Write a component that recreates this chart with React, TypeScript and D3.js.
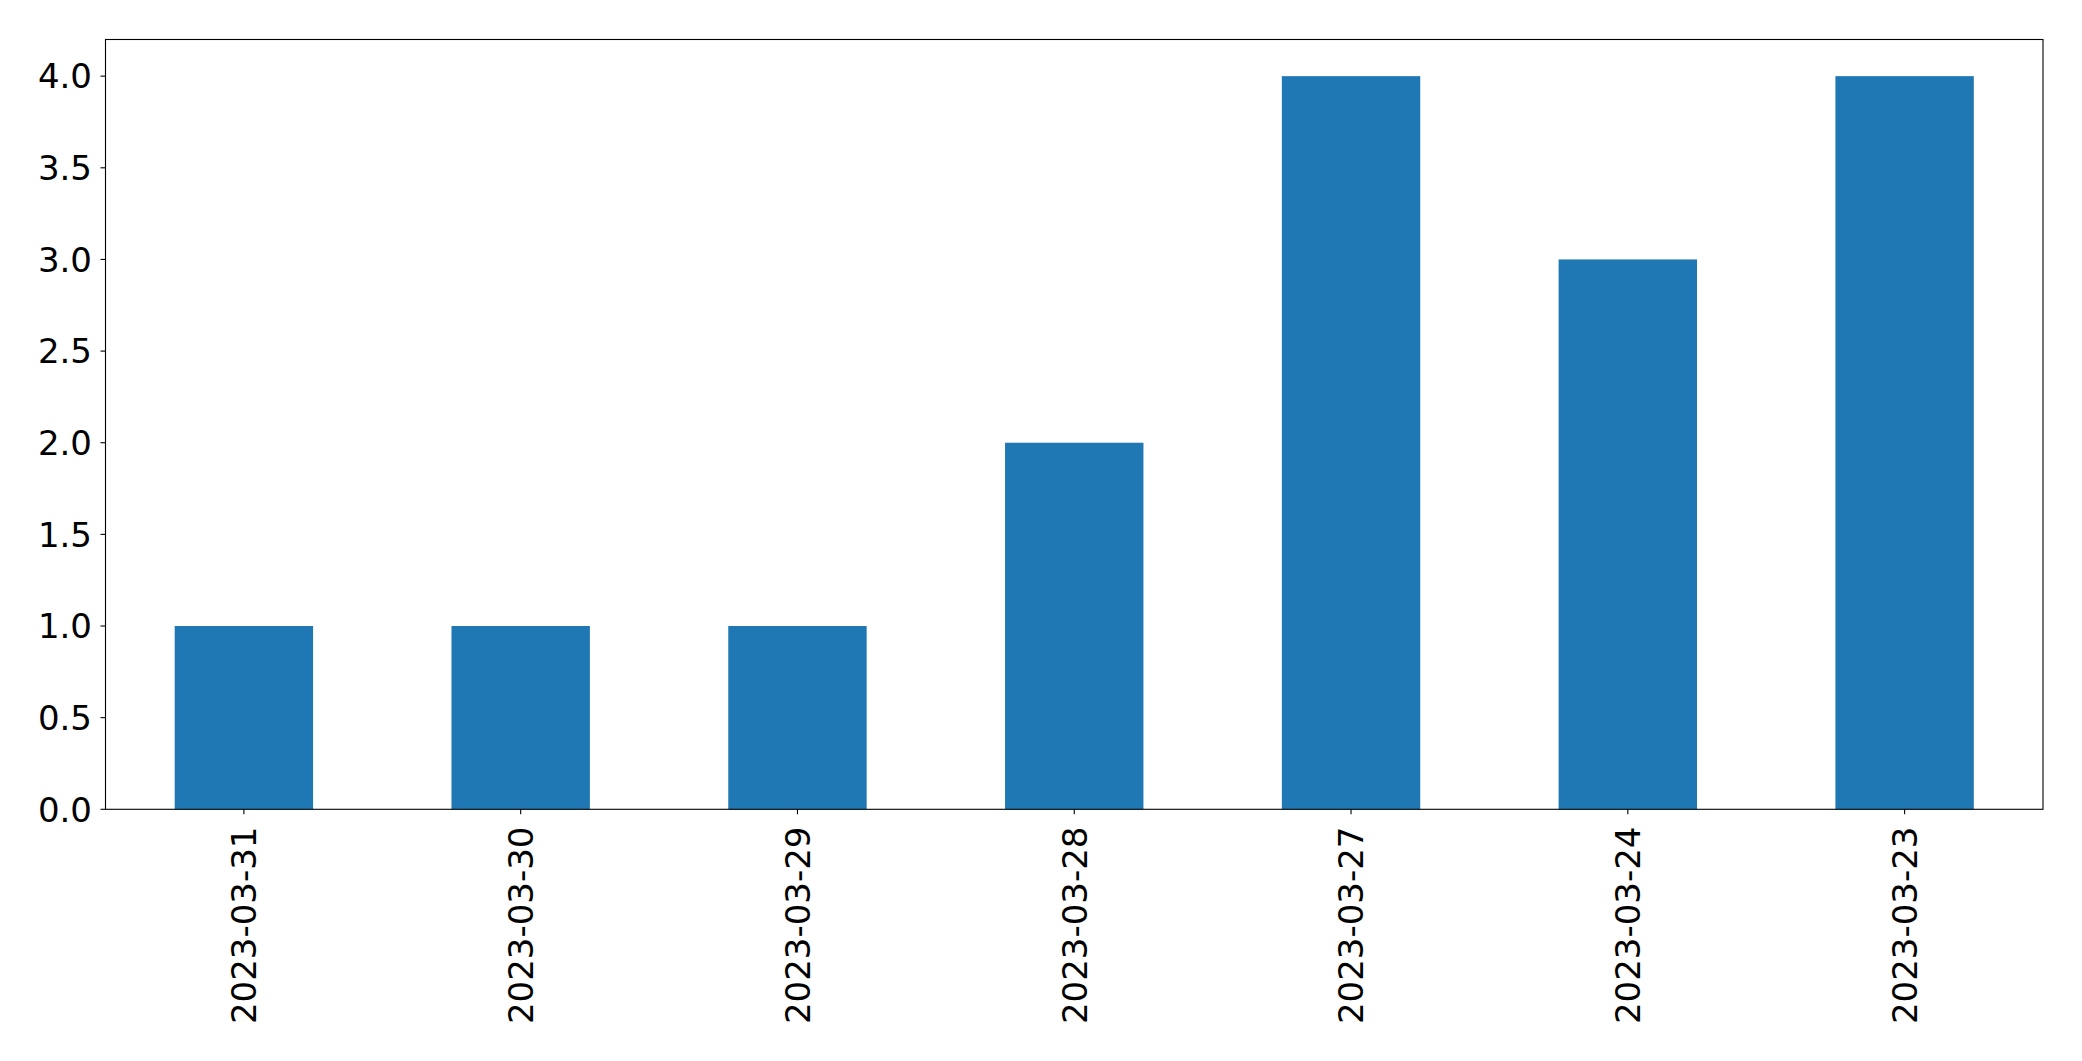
import React from "react";
import * as d3 from "d3";

const categories = ["2023-03-31", "2023-03-30", "2023-03-29", "2023-03-28", "2023-03-27", "2023-03-24", "2023-03-23"];
const values = [1, 1, 1, 2, 4, 3, 4];
const yTicks = [0, 0.5, 1.0, 1.5, 2.0, 2.5, 3.0, 3.5, 4.0];

const W = 2082;
const H = 1061;
const left = 105.5;
const right = 2043;
const top = 39.5;
const bottom = 809.3;
const FONT = "'DejaVu Sans', sans-serif";
const FS = 34;

export default function App() {
  const x = d3.scaleBand<string>().domain(categories).range([left, right]).paddingInner(0.5).paddingOuter(0.25);
  const y = d3.scaleLinear().domain([0, 4.2]).range([bottom, top]);
  return (
    <svg width={W} height={H} style={{ position: "absolute", left: 0, top: 0 }}>
      <rect x={0} y={0} width={W} height={H} fill="#fff" />
      {categories.map((c, i) => (
        <rect key={c} x={x(c)!} y={y(values[i])} width={x.bandwidth()} height={y(0) - y(values[i])} fill="#1f77b4" />
      ))}
      <rect x={left} y={top} width={right - left} height={bottom - top} fill="none" stroke="#000" strokeWidth={1.1} />
      {yTicks.map((t) => (
        <g key={t}>
          <line x1={left - 5} x2={left} y1={y(t)} y2={y(t)} stroke="#000" strokeWidth={1.1} />
          <text x={92} y={y(t)} dy="0.36em" textAnchor="end" fontFamily={FONT} fontSize={FS} fill="#000">
            {t.toFixed(1)}
          </text>
        </g>
      ))}
      {categories.map((c) => {
        const cx = x(c)! + x.bandwidth() / 2;
        return (
          <g key={c}>
            <line x1={cx} x2={cx} y1={bottom} y2={bottom + 5} stroke="#000" strokeWidth={1.1} />
            <text
              transform={`translate(${cx},${826.5}) rotate(-90)`}
              dy="0.36em"
              textAnchor="end"
              fontFamily={FONT}
              fontSize={FS}
              fill="#000"
            >
              {c}
            </text>
          </g>
        );
      })}
    </svg>
  );
}
